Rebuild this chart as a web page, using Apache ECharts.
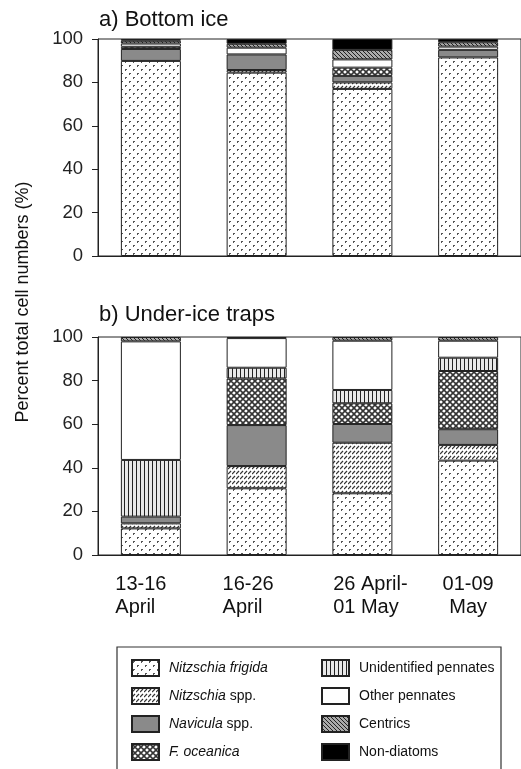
<!DOCTYPE html>
<html><head><meta charset="utf-8">
<script src="https://cdn.jsdelivr.net/npm/echarts@6/dist/echarts.min.js"></script>
<style>html,body{margin:0;padding:0;background:#fff}#c{width:521px;height:769px}</style>
</head><body><div id="c"></div>
<script>
const categories = ['13-16\nApril', '16-26\nApril', '26 April-\n01 May', '01-09\nMay'];
const yTicks = [0, 20, 40, 60, 80, 100];
const groups = ['Nitzschia frigida', 'Nitzschia spp.', 'Navicula spp.', 'F. oceanica',
                'Unidentified pennates', 'Other pennates', 'Centrics', 'Non-diatoms'];
// a) Bottom ice (%)
const frigidaA  = [89.9, 84.5, 77.0, 91.5];
const nitzA     = [0,    1.2,  3.0,  0];
const naviculaA = [5.5,  7.2,  3.0,  3.5];
const oceanicaA = [1.0,  0,    3.8,  0];
const unidentA  = [0,    0,    0,    0];
const otherA    = [1.5,  3.1,  3.8,  1.5];
const centricsA = [1.3,  1.8,  4.4,  2.0];
const nondiatA  = [0.8,  2.2,  5.0,  1.5];
// b) Under-ice traps (%)
const frigidaB  = [12.2, 30.6, 28.3, 43.3];
const nitzB     = [2.3,  10.2, 23.2, 7.2];
const naviculaB = [3.1,  18.8, 8.6,  7.2];
const oceanicaB = [0,    21.4, 9.5,  26.7];
const unidentB  = [26.0, 4.9,  6.1,  6.1];
const otherB    = [54.4, 13.6, 22.6, 7.8];
const centricsB = [2.0,  0,    1.7,  1.7];
const nondiatB  = [0,    0.5,  0,    0];

const seriesA = [frigidaA, nitzA, naviculaA, oceanicaA, unidentA, otherA, centricsA, nondiatA];
const seriesB = [frigidaB, nitzB, naviculaB, oceanicaB, unidentB, otherB, centricsB, nondiatB];

function pat(w, h, draw) {
  const c = document.createElement('canvas'); c.width = w; c.height = h;
  const g = c.getContext('2d'); draw(g, w, h);
  return { image: c, repeat: 'repeat' };
}
const fills = [
  pat(8, 8, (g) => { g.fillStyle = '#fff'; g.fillRect(0,0,8,8); g.fillStyle = '#555';
    g.fillRect(1,1,2,1); g.fillRect(1,2,1,1); g.fillRect(5,5,2,1); g.fillRect(5,6,1,1); }),
  pat(4, 5, (g) => { g.fillStyle = '#fff'; g.fillRect(0,0,4,5); g.strokeStyle = '#333'; g.lineWidth = 1.2;
    g.beginPath(); g.moveTo(0,4); g.lineTo(3,1); g.stroke(); }),
  '#8a8a8a',
  pat(6, 6, (g) => { g.fillStyle = '#fff'; g.fillRect(0,0,6,6); g.strokeStyle = '#333'; g.lineWidth = 1.6;
    g.beginPath(); g.moveTo(0,0); g.lineTo(6,6); g.moveTo(6,0); g.lineTo(0,6);
    g.moveTo(-3,3); g.lineTo(3,9); g.moveTo(3,-3); g.lineTo(9,3);
    g.moveTo(3,-3); g.lineTo(-3,3); g.moveTo(9,3); g.lineTo(3,9); g.stroke(); }),
  pat(4, 4, (g) => { g.fillStyle = '#e8e8e8'; g.fillRect(0,0,4,4); g.fillStyle = '#222'; g.fillRect(0,0,1,4); }),
  '#ffffff',
  pat(4, 4, (g) => { g.fillStyle = '#aaa'; g.fillRect(0,0,4,4); g.strokeStyle = '#222'; g.lineWidth = 1;
    g.beginPath(); g.moveTo(0,0); g.lineTo(4,4); g.moveTo(-2,2); g.lineTo(2,6); g.moveTo(2,-2); g.lineTo(6,2); g.stroke(); }),
  '#000000'
];

const italicPart = {
  'Nitzschia frigida': '{i|Nitzschia frigida}',
  'Nitzschia spp.': '{i|Nitzschia} spp.',
  'Navicula spp.': '{i|Navicula} spp.',
  'F. oceanica': '{i|F. oceanica}'
};

function buildSeries(arrs, idx) {
  return arrs.map((arr, k) => ({
    name: groups[k], type: 'bar', stack: 's' + idx,
    xAxisIndex: idx, yAxisIndex: idx, barWidth: 60,
    itemStyle: { color: fills[k], borderColor: '#222', borderWidth: 1 },
    data: arr.map(v => v === 0 ? '-' : v)
  }));
}

const labelPads = [[0, 20, 0, 0], [0, 17, 0, 0], [0, 0, 0, 16], [0, 0, 0, 0]];
const axisCommon = {
  type: 'category', data: categories.map((c, i) => ({ value: c, textStyle: { padding: labelPads[i] } })),
  axisLine: { lineStyle: { color: '#222', width: 1 } }, axisTick: { show: false }
};
const yCommon = {
  type: 'value', min: yTicks[0], max: yTicks[yTicks.length - 1], interval: 20,
  axisLine: { show: true, lineStyle: { color: '#222', width: 1 } },
  axisTick: { show: true, length: 6, lineStyle: { color: '#222' } },
  splitLine: { show: false },
  axisLabel: { color: '#222', fontSize: 18.5, fontFamily: 'Liberation Sans', margin: 15 }
};
const xRich = {
  l: { align: 'left', fontSize: 20, lineHeight: 23, fontFamily: 'Liberation Sans', color: '#111' },
  c: { align: 'center', fontSize: 20, lineHeight: 23, fontFamily: 'Liberation Sans', color: '#111' }
};

const chart = echarts.init(document.getElementById('c'), null, { renderer: 'canvas' });
chart.setOption({
  animation: false,
  backgroundColor: '#fff',
  title: [
    { text: 'a) Bottom ice', left: 99, top: 9, padding: 0,
      textStyle: { fontSize: 22, fontWeight: 'normal', color: '#111', fontFamily: 'Liberation Sans' } },
    { text: 'b) Under-ice traps', left: 99, top: 304, padding: 0,
      textStyle: { fontSize: 22, fontWeight: 'normal', color: '#111', fontFamily: 'Liberation Sans' } }
  ],
  grid: [
    { left: 98, right: -2, top: 39, height: 217, show: true, borderColor: '#222', borderWidth: 1 },
    { left: 98, right: -2, top: 337, height: 218, show: true, borderColor: '#222', borderWidth: 1 }
  ],
  xAxis: [
    Object.assign({}, axisCommon, { gridIndex: 0, axisLabel: { show: false } }),
    Object.assign({}, axisCommon, { gridIndex: 1,
      axisLabel: { show: true, color: '#111', fontSize: 20, lineHeight: 23, fontFamily: 'Liberation Sans', margin: 18, interval: 0,
        formatter: (v, i) => { const t = i < 3 ? 'l' : 'c'; return v.split('\n').map(s => '{' + t + '|' + s + '}').join('\n'); },
        rich: xRich } })
  ],
  yAxis: [
    Object.assign({}, yCommon, { gridIndex: 0 }),
    Object.assign({}, yCommon, { gridIndex: 1 })
  ],
  legend: {
    orient: 'vertical', left: 117, top: 647, height: 112,
    padding: [12, 0, 30, 14], itemGap: 10, itemWidth: 27, itemHeight: 16,
    borderColor: '#333', borderWidth: 1.2, icon: 'rect',
    data: groups,
    formatter: (n) => italicPart[n] || n,
    textStyle: { fontSize: 14, color: '#111', fontFamily: 'Liberation Sans', width: 142, lineHeight: 16,
      padding: [0, 0, 0, 5], rich: { i: { fontStyle: 'italic', fontSize: 14, fontFamily: 'Liberation Sans' } } }
  },
  graphic: [{
    type: 'text', x: 23, y: 302, rotation: Math.PI / 2,
    style: { text: 'Percent total cell numbers (%)', font: '18px "Liberation Sans"', fill: '#111',
      align: 'center', verticalAlign: 'middle' }
  }],
  series: buildSeries(seriesA, 0).concat(buildSeries(seriesB, 1))
});
</script></body></html>
